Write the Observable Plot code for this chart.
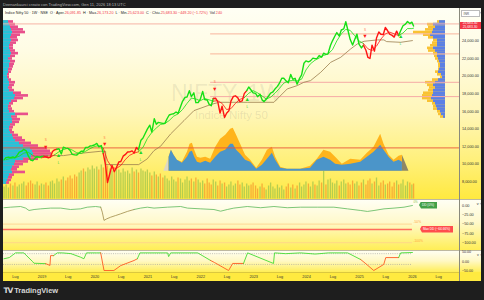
<!DOCTYPE html>
<html><head><meta charset="utf-8">
<script src="https://cdn.jsdelivr.net/npm/d3@7"></script>
<script src="https://cdn.jsdelivr.net/npm/@observablehq/plot@0.6"></script>
<style>
html,body{margin:0;padding:0;background:#1e1e1e;width:484px;height:300px;overflow:hidden}
#root{position:relative;width:484px;height:300px;overflow:hidden;font-family:"Liberation Sans",Arial,sans-serif}
svg{display:block}
.r{color:#f23645}
</style></head><body><div id="root"></div>
<script>
// ---------------- DATA ----------------
// Weekly-ish price, two readings per month (mid, end)
const price2018 = [10480,10740,10800,10740,10810,10710,11020,11360,11470,11680,11510,10930,10470,10390,10680,10880,10790,10860]; // Apr-Dec
const price2019 = [10900,10830,10720,10790,11430,11620,11690,11750,11150,11920,11820,11790,11550,11120,11050,11020,11270,11470,11460,11880,11890,12060,12090,12170];
const price2020 = [12350,11960,12110,11200,9950,7900,8990,9860,9140,9580,10240,10300,10900,11070,11370,11390,11500,11250,11900,11640,12720,12970,13510,13980];
const price2021 = [14430,13630,15160,14530,14740,14690,14620,14630,15180,15580,15680,15720,15920,15760,16530,17130,17580,17620,18340,17670,18100,16980,17000,17350];
const price2022 = [18260,17340,17280,16790,16630,17460,17480,17100,15800,16580,15290,15780,16050,17160,17700,17760,17530,17090,17190,18010,18350,18760,18420,18100];
const price2023 = [18030,17660,17940,17300,17100,17360,17740,18070,18200,18530,18830,19190,19750,19750,19430,19250,20190,19640,19750,19080,19740,20130,21460,21730];
const price2024 = [21620,21730,22040,21980,22020,22330,22150,22600,22470,22530,23470,24010,24530,24950,24540,25240,25360,26180,25130,24180,23530,24130,24770,23640];
const price2025 = [23200,23510,22930,22120,22000,23520,22830,24330,25020,24750,24720,25520,25150,24770,24630,24430,25110,24610,25230,25720,25910,26200,25970,26130];
const lastDate = "2026-01-09", priceLast = 25683.30;

// volume (indicator units) per price reading
const vol2018 = [12,14,11,15,13,16,12,14,15,17,13,16,18,15,14,17,13,15];
const vol2019 = [14,16,13,17,18,15,20,17,19,22,18,21,23,20,24,22,26,28,30,27,31,29,33,30];
const vol2020 = [32,29,34,31,35,33,30,28,27,31,29,26,30,27,28,25,31,27,29,26,30,28,27,29];
const vol2021 = [26,23,27,24,22,25,21,23,20,18,22,19,17,21,20,16,19,22,18,20,17,21,19,16];
const vol2022 = [18,15,20,16,14,19,17,13,18,15,16,12,14,17,13,15,18,14,16,12,15,13,14,16];
const vol2023 = [13,10,12,15,11,9,13,16,12,10,14,11,13,9,12,15,11,14,10,13,16,12,14,17];
const vol2024 = [15,12,17,14,13,18,16,28,14,19,20,16,15,18,13,17,19,15,16,14,18,15,17,13];
const vol2025 = [16,19,14,18,20,15,17,21,13,16,18,14,15,17,12,16,18,14,15,19,13,17,16,14];
const volLast = 15;

// trailing line, one reading per month-end
const trail2018 = [10500,10650,10720,10900,11250,11350,11000,10750,10720];
const trail2019 = [10800,10800,11050,11400,11650,11800,11600,11300,11200,11450,11750,12000];
const trail2020 = [12100,11800,10400,9600,9500,9850,10500,11000,11250,11400,11900,12900];
const trail2021 = [13600,14100,14500,14600,14950,15450,15700,16200,16900,17500,17400,17200];
const trail2022 = [17450,17300,17150,17200,16900,16200,16300,16900,17350,17550,18050,18350];
const trail2023 = [18100,17750,17400,17600,18050,18600,19200,19450,19500,19450,19650,20700];
const trail2024 = [21400,21800,22050,22350,22500,23000,24000,24800,25300,25200,24600,24000];
const trail2025 = [23700,23100,22900,23400,24200,24800,25000,24800,24600,24900,25400,25400];
const trailLast = 25450;

// trend signals
const signalDates  = ["2019-01-26","2019-04-25","2020-03-08","2020-11-12","2022-04-07","2022-11-18","2025-02-08","2025-10-12"];
const signalTypes  = ["S","L","S","L","S","L","S","L"];
const signalLevels = [11950,10966,12216,11340,18545,17330,24489,24489];

// long stepped trailing line (olive)
const oliveDates = ["2019-01-26","2019-05-30","2019-09-03","2020-02-09","2020-03-15","2020-03-16","2020-10-29","2020-12-27","2021-02-12","2021-03-29","2021-06-07","2021-09-07","2021-11-15","2022-03-10","2022-05-06","2022-11-18","2023-05-21","2023-06-13","2023-08-21","2023-10-29","2023-12-13","2024-01-29","2024-04-08","2024-06-16","2024-08-24","2024-11-01","2024-12-17","2025-02-01","2025-05-04","2025-06-18","2025-07-07","2025-10-12","2026-01-01"];
const oliveVals  = [10966,10966,11193,11455,11455,9943,9943,10591,11534,12023,13432,14943,16080,16761,17023,17023,17023,17409,18545,18920,19295,19489,20432,21568,22136,23091,23659,23955,24114,24114,23920,23841,24034];

// horizontal price levels
const fullLevels = [25930];
const fullLevelColors = ["#f6b3a6"];
const redLevel = 11841;
const partLevels = [24795,22523,19295,17670];
const partLevelColors = ["#f8b49c","#f9b69a","#f6aaa6","#f6aaa6"];
const partLevelFrom = "2022-03-10";

// lower area indicator (blue + orange)
const areaDates = ["2021-05-27","2021-06-12","2021-06-30","2021-07-23","2021-08-27","2021-10-01","2021-10-19","2021-11-04","2021-11-20","2021-12-09","2022-01-01","2022-02-04","2022-03-10","2022-04-14","2022-05-18","2022-06-22","2022-07-26","2022-08-13","2022-09-05","2022-10-03","2022-11-06","2022-12-11","2023-01-22","2023-03-02","2023-04-06","2023-05-10","2023-06-02","2023-07-07","2023-08-22","2023-11-21","2024-01-29","2024-03-15","2024-04-30","2024-06-15","2024-07-20","2024-09-04","2024-11-01","2025-01-09","2025-02-24","2025-04-11","2025-05-27","2025-06-19","2025-07-24","2025-08-27","2025-10-01","2025-10-24"];
const blueVals   = [14,21,16,11,8,14,19,20,14,9, 8,10,8,14,19,21,27,27,21,17, 11,9,2,6,12,18,11,3,2,2, 3,11,14,11,7,6,7,9,14,19, 26,21,14,9,11,9];
const orangeVals = [14,21,16,11,9,19,27,28,21,14, 13,14,12,24,32,36,42,43,36,27, 16,11,3,11,21,24,14,4,2,2, 5,12,21,19,14,7,12,11,18,24, 37,27,16,11,15,16];
const grayLDates = ["2021-04-21","2021-05-27"], grayLVals = [0,14];
const grayRDates = ["2025-10-24","2025-12-08"], grayRVals = [16,0];

// left volume profile (bins of 300 points, centre from 7850 upward)
const leftBinStart = 7850, binStep = 300;
const leftPink = [6,8,9,11,22,14,16,20,25,35, 45,48,47,44,35,28,22,19,15,11, 9,10,12,16,17,14,25,11,9,8, 10,14,20,25,18,11,9,11,12,8, 6,6,8,9,10,11,12,9,12,15, 12,10,10,13,15,14,17,22,20,15, 12,10];
const leftCyan = [3,4,5,6,9,8,9,11,12,20, 28,30,29,27,20,16,12,10,9,7, 6,6,7,9,9,8,12,6,5,5, 6,8,11,12,10,6,5,6,6,5, 4,4,5,5,6,6,7,5,7,8, 7,6,6,7,8,7,8,9,8,7, 6,5];
// right volume profile (centre from 15350 upward)
const rightBinStart = 15350;
const rightOrange = [5,7,8,12,12,13,18,23,23,22,17,16,18,20,13,5,8,10,7,7,7,8,10,11,12,17,18,15,13,12,17,22,32,20,17,18,8];
const rightBlue   = [2,4,5,8,9,10,12,14,13,12,12,10,12,10,7,3,4,7,6,5,5,6,7,8,8,10,12,8,8,8,12,15,13,12,10,12,6];

const priceTicks = [8000,10000,12000,14000,16000,18000,20000,22000,24000];

// drawdown pane
const ddDates = ["2018-04-13","2018-05-29","2018-08-06","2018-09-10","2018-10-03","2018-11-07","2018-12-23","2019-03-01","2019-05-10","2019-07-17","2019-09-24","2019-11-09","2020-01-06","2020-02-10","2020-02-21","2020-03-04","2020-03-23","2020-04-19","2020-05-23","2020-06-27","2020-08-12","2020-09-27","2020-11-12","2020-12-28","2021-02-12","2021-05-15","2021-08-15","2021-10-01","2022-01-01","2022-04-02","2022-05-18","2022-07-03","2022-08-17","2022-11-18","2023-02-18","2023-05-21","2023-08-21","2023-11-21","2024-03-15","2024-07-08","2024-10-09","2025-01-09","2025-02-24","2025-04-11","2025-06-19","2025-08-27","2025-11-04","2026-01-01"];
const ddVals = [-6,-4.5,-2.7,-7,-13.4,-10.8,-9,-7,-7,-10.8,-9,-4.5,-2.7,-4.5,-18,-40,-35.8,-31.4,-27,-22.4,-16,-10.8,-7,-4.5,-7,-4.5,-2.7,-7,-9,-10.8,-15.3,-10.8,-7,-2.7,-6,-2.7,-6,-4.5,-4.5,-4.5,-9,-13.4,-16,-13.4,-9,-7,-4.5,0];
const ddCrashWindow = ["2020-02-21","2020-09-27"];
const ddLevels = [-50,-64.66,-100];
const ddLevelLabels = ["-50%","","-100%"];
const ddTicks = [0,-25,-50,-75,-100];
const ddLevelEnd = "2026-01-01";

// oscillator pane
const oscDates = ["2018-04-13","2018-05-20","2018-07-02","2018-08-28","2018-10-26","2018-11-07","2019-01-26","2019-02-25","2019-03-01","2019-03-22","2019-04-16","2019-05-22","2019-07-20","2019-09-24","2019-10-17","2019-11-04","2020-01-10","2020-02-10","2020-03-04","2020-05-11","2020-06-27","2020-09-27","2020-10-20","2020-11-07","2021-05-17","2021-05-24","2021-06-07","2021-12-11","2022-03-10","2022-04-05","2022-07-12","2022-08-09","2022-10-23","2022-11-20","2023-05-18","2023-05-25","2023-08-10","2023-11-21","2024-03-01","2024-06-01","2024-10-11","2025-01-09","2025-02-08","2025-04-09","2025-06-17","2025-07-01","2025-09-28","2025-10-12","2026-01-01"];
const oscVals = [14,20,44,44,1,-9,-11,-20,30,30,44,44,40,22,14,44,44,44,-46,-46,-21,5,14,44,44,25,44,44,5,-5,-46,-10,-10,44,-10,44,40,44,38,44,44,10,-8,-46,-15,20,20,44,46];
const oscState = "gggggggrrrggggggggrrrrrggggggrrrrgggggggggrrrrrgg";
const oscLevels = [40,-15];
const oscTicks = [50,0,-50];

// time axis labels
const xTickDates = ["2018-07-01","2019-01-01","2019-07-01","2020-01-01","2020-07-01","2021-01-01","2021-07-01","2022-01-01","2022-07-01","2023-01-01","2023-07-01","2024-01-01","2024-07-01","2025-01-01","2025-07-01","2026-01-01","2026-07-01"];
const xTickLabels = ["Lug","2019","Lug","2020","Lug","2021","Lug","2022","Lug","2023","Lug","2024","Lug","2025","Lug","2026","Lug"];

// ---------------- BUILD TABLES ----------------
const D = s => new Date(s);
const GREEN = "#16e016", RED = "#ff1515";
const rows = [];
[[2018,3,price2018,vol2018],[2019,0,price2019,vol2019],[2020,0,price2020,vol2020],[2021,0,price2021,vol2021],
 [2022,0,price2022,vol2022],[2023,0,price2023,vol2023],[2024,0,price2024,vol2024],[2025,0,price2025,vol2025]]
 .forEach(([yr,m0,vals,vols]) => vals.forEach((v,i) => rows.push({date:new Date(Date.UTC(yr,m0+Math.floor(i/2),i%2?28:14)), v, vol:vols[i]})));
rows.push({date:D(lastDate), v:priceLast, vol:volLast});
rows.forEach((r,i) => r.vc = (i===0 || r.v >= rows[i-1].v) ? "#a9c94f" : "#f6a133");

const trailRows = [];
[[2018,3,trail2018],[2019,0,trail2019],[2020,0,trail2020],[2021,0,trail2021],[2022,0,trail2022],[2023,0,trail2023],[2024,0,trail2024],[2025,0,trail2025]]
 .forEach(([yr,m0,vals]) => vals.forEach((v,i) => trailRows.push({date:new Date(Date.UTC(yr,m0+i,28)), v})));
trailRows.push({date:D(lastDate), v:trailLast});

const sigs = signalDates.map((d,i) => ({date:D(d), t:signalTypes[i], v:signalLevels[i]}));
function trendAt(d){ let t = "L"; for (const s of sigs) if (s.date <= d) t = s.t; return t; }
function segment(data, colorOf){
  const out = []; let seg = 0, prev = null, prevC = null;
  for (const r of data){ const c = colorOf(r);
    if (prev && c !== prevC){ seg++; out.push({...prev, seg, c}); }
    out.push({...r, seg, c}); prev = r; prevC = c; }
  return out;
}
const trendColor = r => trendAt(r.date) === "L" ? GREEN : RED;
const priceSeg = segment(rows, trendColor);
const trailSeg = segment(trailRows, trendColor);
const oliveRows = oliveDates.map((d,i) => ({date:D(d), v:oliveVals[i]}));

const xStart = D("2018-04-10"), xEnd = D("2026-11-22");
const fullRows = fullLevels.map((v,i) => ({v, c:fullLevelColors[i], from:xStart, to:xEnd}));
const partRows = partLevels.map((v,i) => ({v, c:partLevelColors[i], from:D(partLevelFrom), to:xEnd}));
const areaRows = areaDates.map((d,i) => ({date:D(d), b:blueVals[i], o:orangeVals[i]}));
const grayL = grayLDates.map((d,i) => ({date:D(d), v:grayLVals[i]}));
const grayR = grayRDates.map((d,i) => ({date:D(d), v:grayRVals[i]}));
const leftProf = leftPink.map((p,i) => ({lo:leftBinStart+i*binStep-binStep/2, hi:leftBinStart+i*binStep+binStep/2, p, c:leftCyan[i]}));
const rightProf = rightOrange.map((o,i) => ({lo:rightBinStart+i*binStep-binStep/2, hi:rightBinStart+i*binStep+binStep/2, o, b:rightBlue[i]}));

const ddRows = ddDates.map((d,i) => ({date:D(d), v:ddVals[i]}));
const cw0 = D(ddCrashWindow[0]), cw1 = D(ddCrashWindow[1]);
const ddSeg = segment(ddRows, r => (r.date >= cw0 && r.date <= cw1) ? "#a08a48" : "#5cb85c");
const ddLevelRows = ddLevels.map((v,i) => ({v, label:ddLevelLabels[i], from:xStart, to:D(ddLevelEnd),
  c: i===1 ? "#ff6d5e" : "#ffcf8a", w: i===1 ? 1.4 : 0.8}));
const oscRows = oscDates.map((d,i) => ({date:D(d), v:oscVals[i], s:oscState[i]}));
const oscSeg = segment(oscRows, r => r.s === "g" ? "#46dc34" : "#ff5a22");
const oscLevelRows = oscLevels.map(v => ({v, from:xStart, to:D(ddLevelEnd)}));
const xTicks = xTickDates.map((d,i) => ({date:D(d), label:xTickLabels[i]}));

// ---------------- LAYOUT ----------------
const root = document.getElementById("root");
function div(left, top, w, h, css, html){
  const d = document.createElement("div");
  d.style.cssText = `position:absolute;left:${left}px;top:${top}px;` + (w!=null?`width:${w}px;`:"") + (h!=null?`height:${h}px;`:"") + (css||"");
  if (html != null) d.innerHTML = html;
  root.appendChild(d); return d;
}
function put(svg, left, top){ svg.style.position="absolute"; svg.style.left=left+"px"; svg.style.top=top+"px"; root.appendChild(svg); return svg; }

const FX0 = 3, FX1 = 481, AX = 459;
const MAIN_T = 8, MAIN_H = 191, P2_T = 199, P2_H = 51, P3_T = 250, P3_H = 22, XA_T = 272, XA_H = 9;

div(FX0, MAIN_T, FX1-FX0, MAIN_H, "background:linear-gradient(#fffff4 0%,#fffce4 22%,#fff6b8 55%,#fff07a 80%,#ffe940 100%)");
div(FX0, P2_T, FX1-FX0, P2_H, "background:linear-gradient(#fffff6 0%,#fff9cc 45%,#ffee56 100%)");
div(FX0, P3_T, FX1-FX0, P3_H, "background:linear-gradient(#fffff6 0%,#fff8c4 50%,#ffee56 100%)");
div(FX0, XA_T, FX1-FX0, XA_H, "background:#ffea40");

// watermark
div(171, 82.2, null, null, "font-size:23px;line-height:23px;color:rgba(80,80,80,0.11);white-space:nowrap", "NIFTY, 1W");
div(195, 110.3, null, null, "font-size:11.5px;line-height:11.5px;color:rgba(80,80,80,0.13);white-space:nowrap", "Indice Nifty 50");

const X = {type:"utc", domain:[xStart, xEnd], axis:null};
const baseOpts = {width:484, marginLeft:3, marginRight:25,
  style:{background:"transparent", overflow:"visible", fontFamily:"Liberation Sans, Arial, sans-serif"}};

// volume bars
put(Plot.plot({...baseOpts, height:MAIN_H, marginTop:90.5, marginBottom:0.5, x:X, y:{domain:[0,100], axis:null}, color:{type:"identity"},
  marks:[Plot.ruleX(rows, {x:"date", y1:0, y2:"vol", stroke:"vc", strokeWidth:1.3, strokeOpacity:0.85})]}), 0, MAIN_T);

// area indicator
put(Plot.plot({...baseOpts, height:MAIN_H, marginTop:62.7, marginBottom:28.3, x:X, y:{domain:[0,100], axis:null},
  marks:[
    Plot.areaY(grayL, {x:"date", y:"v", fill:"#ddd8c4"}),
    Plot.areaY(grayR, {x:"date", y:"v", fill:"#8e8765"}),
    Plot.areaY(areaRows, {x:"date", y:"o", fill:"#ffb41c"}),
    Plot.areaY(areaRows, {x:"date", y:"b", fill:"#4b95c9"})
  ]}), 0, MAIN_T);

// left profile
put(Plot.plot({width:484, height:MAIN_H, marginTop:6, marginBottom:0.2, marginLeft:3, marginRight:381,
  style:{background:"transparent", overflow:"visible"},
  x:{domain:[0,100], axis:null}, y:{domain:[6000,27000], axis:null},
  marks:[
    Plot.rect(leftProf, {x1:0, x2:"p", y1:"lo", y2:"hi", fill:"#e8508c"}),
    Plot.rect(leftProf, {x1:0, x2:"c", y1:"lo", y2:"hi", fill:"#25c4d9"})
  ]}), 0, MAIN_T);

// right profile
put(Plot.plot({width:484, height:MAIN_H, marginTop:6, marginBottom:0.2, marginLeft:345, marginRight:39,
  style:{background:"transparent", overflow:"visible"},
  x:{domain:[0,100], reverse:true, axis:null}, y:{domain:[6000,27000], axis:null},
  marks:[
    Plot.rect(rightProf, {x1:0, x2:"o", y1:"lo", y2:"hi", fill:"#f9c233"}),
    Plot.rect(rightProf, {x1:0, x2:"b", y1:"lo", y2:"hi", fill:"#5b80e6"})
  ]}), 0, MAIN_T);

// main price plot
const mainPlot = Plot.plot({...baseOpts, height:MAIN_H, marginTop:6, marginBottom:0.2, x:X,
  y:{domain:[6000,27000], axis:null}, color:{type:"identity"},
  marks:[
    Plot.ruleY(fullRows, {y:"v", x1:"from", x2:"to", stroke:"c", strokeWidth:1}),
    Plot.ruleY(partRows, {y:"v", x1:"from", x2:"to", stroke:"c", strokeWidth:1}),
    Plot.ruleY([redLevel], {y:d=>d, x1:xStart, x2:xEnd, stroke:"#e9573c", strokeWidth:0.9}),
    Plot.line(oliveRows, {x:"date", y:"v", stroke:"#9b7d4e", strokeWidth:0.8}),
    Plot.line(trailSeg, {x:"date", y:"v", z:"seg", stroke:"c", strokeWidth:0.8}),
    Plot.line(priceSeg, {x:"date", y:"v", z:"seg", stroke:"c", strokeWidth:1.4}),
    Plot.text(sigs, {x:"date", y:"v", text:d=>d.t==="S"?"▼":"▲", fill:d=>d.t==="S"?"#ff1a1a":"#22d822", fontSize:5.5}),
    Plot.text(sigs.filter(d=>d.t==="S"), {x:"date", y:"v", text:"t", dy:-7, fill:"#ff7043", fontSize:3}),
    Plot.text(sigs.filter(d=>d.t==="L"), {x:"date", y:"v", text:"t", dy:7.5, fill:"#2ecc2e", fontSize:3}),
    Plot.axisY({anchor:"right", ticks:priceTicks, tickSize:0, tickPadding:2.5, tickFormat:d3.format(",.2f"), fontSize:3.8, color:"#333"})
  ]});
put(mainPlot, 0, MAIN_T);

// drawdown pane
const ddPlot = Plot.plot({...baseOpts, height:P2_H, marginTop:6, marginBottom:7.8, x:X,
  y:{domain:[-100,0], axis:null}, color:{type:"identity"},
  marks:[
    Plot.ruleY(ddLevelRows, {y:"v", x1:"from", x2:"to", stroke:"c", strokeWidth:"w"}),
    Plot.line(ddSeg, {x:"date", y:"v", z:"seg", stroke:"c", strokeWidth:0.8}),
    Plot.text(ddLevelRows.filter(d=>d.label), {x:"to", y:"v", text:"label", dx:1, dy:-2.2, textAnchor:"start", fill:"#ffa640", fontSize:3.3}),
    Plot.text([ddRows[ddRows.length-1]], {x:"date", y:"v", text:()=>"0%", dx:1, dy:-3, textAnchor:"start", fill:"#8bc34a", fontSize:3}),
    Plot.axisY({anchor:"right", ticks:ddTicks, tickSize:0, tickPadding:2.5, tickFormat:d3.format(",.2f"), fontSize:3.8, color:"#333"})
  ]});
put(ddPlot, 0, P2_T);

// oscillator pane
const oscPlot = Plot.plot({...baseOpts, height:P3_H, marginTop:1.2, marginBottom:1.2, x:X,
  y:{domain:[-50,50], axis:null}, color:{type:"identity"},
  marks:[
    Plot.ruleY(oscLevelRows, {y:"v", x1:"from", x2:"to", stroke:"#9a9a9a", strokeWidth:0.6, strokeDasharray:"1,1.2"}),
    Plot.line(oscSeg, {x:"date", y:"v", z:"seg", stroke:"c", strokeWidth:0.9}),
    Plot.axisY({anchor:"right", ticks:oscTicks, tickSize:0, tickPadding:2.5, tickFormat:d3.format(",.2f"), fontSize:3.6, color:"#333"})
  ]});
put(oscPlot, 0, P3_T);

// time axis
put(Plot.plot({...baseOpts, height:XA_H, marginTop:0, marginBottom:0, x:X, y:{axis:null},
  marks:[Plot.text(xTicks, {x:"date", text:"label", fontSize:3.8, fill:"#333"})]}), 0, XA_T);

// separators
div(FX0, P2_T-0.5, FX1-FX0, 1, "background:rgba(110,100,60,0.45)");
div(FX0, P3_T-0.5, FX1-FX0, 1, "background:rgba(110,100,60,0.45)");
div(FX0, XA_T, AX-FX0, 0.6, "background:rgba(110,100,60,0.25)");
div(AX, MAIN_T, 0.8, XA_T+XA_H-MAIN_T, "background:#8a8a7c");

// header + legend
div(3, 3, null, null, "font-size:4px;line-height:4px;color:#b5b5b5;white-space:nowrap", "Deenankaurci creato con TradingView.com, Gen 11, 2026 18:13 UTC");
div(5, 11.2, null, null, "font-size:3.7px;line-height:4px;color:#222;white-space:nowrap",
  "Indice Nifty 50 · 1W · NSE &nbsp;O · Aper.<span class=r>26,091.85</span> &nbsp;H · Max.<span class=r>26,173.20</span> &nbsp;L · Min.<span class=r>25,623.00</span> &nbsp;C · Chiu.<span class=r>25,683.30</span> <span class=r>−449.20 (−1.72%)</span> &nbsp;Vol <span class=r>240</span>");
div(460.5, 9.5, 19, 7, "background:#fff;border:0.5px solid #bbb;box-sizing:border-box;font-size:3.3px;line-height:6px;color:#555;padding-left:2px", "INR");

// price label
const yLast = MAIN_T + mainPlot.scale("y").apply(priceLast);
div(459.5, yLast-3.6, 21, 7.2, "background:#f23645;color:#fff;font-size:3.3px;line-height:3.6px;text-align:center", "25,683.30<br>25,683.30");

// drawdown labels
const ddY = v => P2_T + ddPlot.scale("y").apply(v);
const tip = "clip-path:polygon(2px 0,100% 0,100% 100%,2px 100%,0 50%);";
div(419, ddY(0)-3.5, 18, 7, tip+"background:#43a047;color:#fff;font-size:3.2px;line-height:7px;text-align:center", "DD (0%)");
div(420, ddY(-64.66)-3.5, 33, 7, tip+"background:#ff4d4d;color:#fff;font-size:3.2px;line-height:7px;text-align:center", "Max DD (−64.66%)");

// footer logo
div(3.5, 286.7, null, null, "font-size:7.5px;line-height:7.5px;color:#d6d6d6;white-space:nowrap;font-weight:bold",
  "<span style='letter-spacing:-1.2px;font-family:DejaVu Sans'>TV</span>&nbsp;<span style='font-weight:600'>TradingView</span>");
</script></body></html>
